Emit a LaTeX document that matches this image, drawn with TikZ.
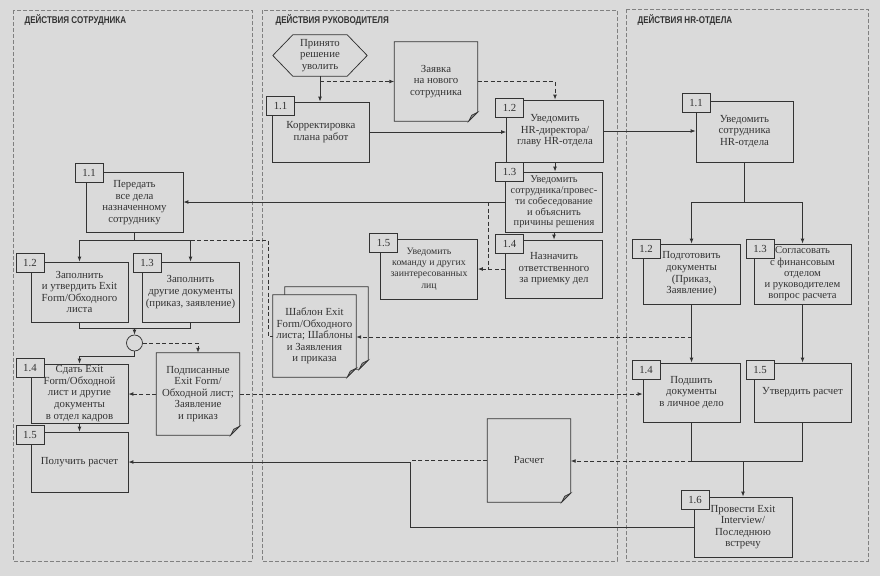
\documentclass[tikz,border=0pt]{standalone}
\usepackage{fontspec}
\setmainfont{Liberation Serif}
\newfontfamily\headfont[FakeStretch=0.82]{Liberation Sans}
\usetikzlibrary{arrows.meta,calc}
\definecolor{paper}{HTML}{DADADA}
\definecolor{ink}{HTML}{333333}
\definecolor{laneink}{HTML}{808080}
\pgfdeclarelayer{paperlayer}
\pgfdeclarelayer{sheets}
\pgfsetlayers{paperlayer,sheets,main}
\def\fold{9pt}
% document sheet with a folded corner, optional shift for a stacked copy
\newcommand\docsheet[2][0,0]{%
  \filldraw[box, fill=paper] ([shift={(#1)}]#2.north west) -- ([shift={(#1)}]#2.north east)
    -- ([shift={(#1)},yshift=\fold]#2.south east) -- ([shift={(#1)},xshift=-\fold]#2.south east)
    -- ([shift={(#1)}]#2.south west) -- cycle;
  \filldraw[box, fill=ink!55] ([shift={(#1)},yshift=\fold]#2.south east)
    -- ([shift={(#1)},xshift=-\fold]#2.south east) -- ([shift={(#1)},xshift=-6pt,yshift=6pt]#2.south east) -- cycle;
}

\begin{document}
\begin{tikzpicture}[x=1pt,y=-1pt,
  box/.style={draw=ink, line width=0.75pt},
  proc/.style={box, fill=paper, text=ink, minimum width=97pt, minimum height=60pt,
    align=center, inner sep=1pt, font=\fontsize{10.8}{11.6}\selectfont},
  num/.style={box, fill=paper, text=ink, minimum width=28pt, minimum height=19pt,
    inner sep=0pt, anchor=west, font=\fontsize{10.8}{12}\selectfont},
  doc/.style={text=ink, minimum width=83pt, minimum height=82pt, align=center,
    inner sep=1pt, font=\fontsize{10.8}{11.6}\selectfont},
  lane/.style={draw=laneink, line width=0.6pt, dash pattern=on 4pt off 2pt},
  title/.style={anchor=west, text=ink, font=\headfont\bfseries\fontsize{9.8}{11}\selectfont},
  line/.style={draw=ink, line width=0.8pt},
  flow/.style={line, -{Latex[length=5pt,width=3.8pt]}},
  dline/.style={line, dash pattern=on 4pt off 2.5pt},
  dflow/.style={dline, -{Latex[length=5pt,width=3.8pt]}}
]
\useasboundingbox (0,0) rectangle (880,576);

% paper and lanes
\begin{pgfonlayer}{paperlayer}
\fill[paper] (0,0) rectangle (880,576);
\draw[lane] (13,10) rectangle (252,561);
\draw[lane] (262,10) rectangle (617,561);
\draw[lane] (626,9) rectangle (868,561);
\end{pgfonlayer}
\node[title] (t1) at (21,20) {ДЕЙСТВИЯ СОТРУДНИКА};
\node[title] (t2) at (272,20) {ДЕЙСТВИЯ РУКОВОДИТЕЛЯ};
\node[title] (t3) at (634,20) {ДЕЙСТВИЯ HR-ОТДЕЛА};

% employee
\node[proc] (e11) at (134.5,202.5) {Передать\\все дела\\назначенному\\сотруднику};
\node[proc] (e12) at (79.5,292) {Заполнить\\и утвердить Exit\\Form/Обходного\\листа};
\node[proc] (e13) at (190.5,292) {Заполнить\\другие документы\\(приказ, заявление)};
\node[box, fill=paper, circle, minimum size=16pt, inner sep=0pt] (merge) at (134.5,343) {};
\node[proc, minimum height=59pt] (e14) at (79.5,393.5) {Сдать Exit\\Form/Обходной\\лист и другие\\документы\\в отдел кадров};
\node[proc] (e15) at (79.5,462) {Получить расчет};
\node[doc] (podpis) at (198,394) {Подписанные\\Exit Form/\\Обходной лист;\\Заявление\\и приказ};

% manager
\node[text=ink, align=center, minimum width=94pt, minimum height=41pt, inner sep=0pt,
  font=\fontsize{10.8}{11.6}\selectfont] (start) at (320,55.5) {Принято\\решение\\уволить};
\draw[box] (start.west) -- ([xshift=20pt]start.north west) -- ([xshift=-20pt]start.north east)
  -- (start.east) -- ([xshift=-20pt]start.south east) -- ([xshift=20pt]start.south west) -- cycle;
\node[doc, minimum height=79pt] (zayavka) at (436,81.5) {Заявка\\на нового\\сотрудника};
\node[proc] (m11) at (321,132) {Корректировка\\плана работ};
\node[proc, minimum height=62pt] (m12) at (555,131) {Уведомить\\HR-директора/\\главу HR-отдела};
\node[proc, font=\fontsize{10.4}{10.8}\selectfont] (m13) at (554,202) {Уведомить\\сотрудника/провес-\\ти собеседование\\и объяснить\\причины решения};
\node[proc, minimum height=58pt] (m14) at (554,269) {Назначить\\ответственного\\за приемку дел};
\node[proc, font=\fontsize{9.8}{11.2}\selectfont] (m15) at (429,269) {Уведомить\\команду и других\\заинтересованных\\лиц};
\node[doc] (tmpl) at (314.5,336) {Шаблон Exit\\Form/Обходного\\листа; Шаблоны\\и Заявления\\и приказа};
\node[doc, minimum height=83pt] (raschet) at (529,460.5) {Расчет};

% HR department
\node[proc, minimum height=61pt] (h11) at (744.5,131.5) {Уведомить\\сотрудника\\HR-отдела};
\node[proc] (h12) at (691.5,274) {Подготовить\\документы\\(Приказ,\\Заявление)};
\node[proc, font=\fontsize{10.6}{11.2}\selectfont] (h13) at (802.5,274) {Согласовать\\с финансовым\\отделом\\и руководителем\\вопрос расчета};
\node[proc, minimum height=59pt] (h14) at (691.5,392.5) {Подшить\\документы\\в личное дело};
\node[proc, minimum height=59pt] (h15) at (802.5,392.5) {Утвердить расчет};
\node[proc, minimum width=98pt] (h16) at (743,527) {Провести Exit\\Interview/\\Последнюю\\встречу};

% step numbers
\node[num] (e11n) at ([xshift=-11pt,yshift=-1pt]e11.north west) {1.1};
\node[num] (e12n) at ([xshift=-15pt,yshift=-1pt]e12.north west) {1.2};
\node[num] (e13n) at ([xshift=-9pt,yshift=-1pt]e13.north west) {1.3};
\node[num] (e14n) at ([xshift=-15pt,yshift=-4pt]e14.north west) {1.4};
\node[num] (e15n) at ([xshift=-15pt,yshift=-3pt]e15.north west) {1.5};
\node[num] (m11n) at ([xshift=-6pt,yshift=-4pt]m11.north west) {1.1};
\node[num] (m12n) at ([xshift=-11pt,yshift=-8pt]m12.north west) {1.2};
\node[num] (m13n) at ([xshift=-10pt,yshift=0pt]m13.north west) {1.3};
\node[num] (m14n) at ([xshift=-10pt,yshift=-4pt]m14.north west) {1.4};
\node[num] (m15n) at ([xshift=-11pt,yshift=-4pt]m15.north west) {1.5};
\node[num] (h11n) at ([xshift=-14pt,yshift=-2pt]h11.north west) {1.1};
\node[num] (h12n) at ([xshift=-11pt,yshift=-5pt]h12.north west) {1.2};
\node[num] (h13n) at ([xshift=-8pt,yshift=-5pt]h13.north west) {1.3};
\node[num] (h14n) at ([xshift=-11pt,yshift=-7pt]h14.north west) {1.4};
\node[num] (h15n) at ([xshift=-8pt,yshift=-7pt]h15.north west) {1.5};
\node[num] (h16n) at ([xshift=-13pt,yshift=-3pt]h16.north west) {1.6};

% document sheets
\begin{pgfonlayer}{sheets}
\docsheet{podpis}
\docsheet{zayavka}
\docsheet[12,-8]{tmpl}
\docsheet{tmpl}
\docsheet{raschet}
\end{pgfonlayer}

% manager flow
\draw[flow] (start.south) -- (start.south |- m11.north);
\draw[dflow] (start.south |- zayavka.west) -- (zayavka.west);
\draw[dflow] (zayavka.east) -| (m12.north);
\draw[flow] (m11.east) -- (m11.east -| m12.west);
\draw[flow] (m12.east) -- (m12.east -| h11.west);
\draw[flow] (m12.south) -- (m12.south |- m13.north);
\draw[flow] (m13.south) -- (m14.north);
\draw[flow] (m13.west) -- (m13.west -| e11.east);
\coordinate (mj) at (488,202);
\draw[dline] (mj) -- (mj |- m14.west);
\draw[dflow] (m14.west) -- (m14.west -| m15.east);

% employee flow
\coordinate (ej1) at (134.5,240);
\draw[line] (e11.south) -- (ej1);
\draw[flow] (ej1) -| (e12.north);
\draw[flow] (ej1) -| (e13.north);
\coordinate (tj) at (268,240);
\draw[dline] (ej1 -| e13.north) -- (tj) |- (tmpl.west);
\coordinate (ej2) at (134.5,328);
\draw[line] (e12.south) |- (ej2);
\draw[line] (e13.south) |- (ej2);
\draw[flow] (ej2) -- (merge.north);
\coordinate (ej3) at (134.5,356);
\draw[flow] (merge.south) -- (ej3) -| (e14.north);
\draw[dflow] (merge.east) -| (podpis.north);
\draw[dflow] (podpis.west) -- (podpis.west -| e14.east);
\draw[dflow] (podpis.east) -- (podpis.east -| h14.west);
\draw[flow] (e14.south) -- (e15.north);

% HR flow
\coordinate (hj1) at (744.5,202);
\draw[line] (h11.south) -- (hj1);
\draw[flow] (hj1) -| (h12.north);
\draw[flow] (hj1) -| (h13.north);
\draw[flow] (h12.south) -- (h14.north);
\draw[flow] (h13.south) -- (h15.north);
\coordinate (hj2) at (691.5,337);
\draw[dflow] (hj2) -- (hj2 -| tmpl.east);
\coordinate (hj3) at (743,461);
\draw[line] (h14.south) |- (hj3);
\draw[line] (h15.south) |- (hj3);
\draw[flow] (hj3) -- (h16.north);
\draw[dflow] (h14.south |- hj3) -- (hj3 -| raschet.east);
\coordinate (rj) at (410,462);
\draw[dline] (raschet.west) -- (raschet.west -| rj);
\draw[flow] (h16.west) -| (rj) -- (rj -| e15.east);
\end{tikzpicture}
\end{document}
